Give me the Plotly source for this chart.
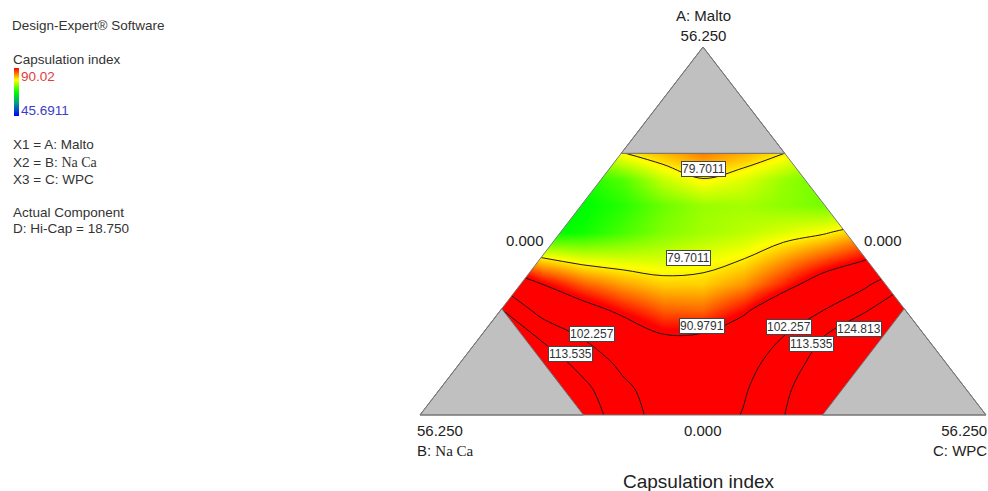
import plotly.graph_objects as go

# ---------------- data ----------------
TOTAL = 56.25        # A + B + C (D: Hi-Cap fixed)
UPPER = 40.0         # upper bound of A, B and C
HI_CAP = 18.750

# response grid: rows = A (Malto) level, columns = (C - B) / 2
grid_x = [-20, -16, -12, -8, -4, 0, 4, 8, 12, 16, 20]
grid_y = [0, 4, 8, 12, 16, 20, 24, 28, 32, 36, 40]
capsulation = [
    [145, 132, 120, 107.9, 97.5, 96, 102.8, 113, 130, 150, 170],
    [140, 128, 116.5, 105, 96, 95, 101, 110.6, 124.8, 140, 158],
    [132, 120, 110, 99.5, 94.5, 93.5, 98, 107.5, 118.5, 133, 148],
    [122, 112, 101.5, 96, 91.5, 91.8, 95.5, 102.3, 113.5, 126.5, 140],
    [114, 98, 94, 89.5, 86, 85.5, 89.8, 96.5, 102.3, 112, 125.5],
    [100, 91, 86, 83, 81, 81, 83.5, 88.5, 94.5, 100, 112],
    [84, 79.8, 77.5, 77, 77, 78, 79.5, 83, 86.5, 90, 96],
    [67, 67.5, 68.5, 71, 73.5, 75, 76, 77.5, 79, 82, 86],
    [65, 66, 67.5, 69.5, 72.5, 74.5, 75, 74, 73, 73, 74],
    [66, 67, 69, 71.5, 76.5, 79.5, 77.5, 74.5, 72.5, 72, 72],
    [67, 70, 74, 79.5, 82, 84.5, 82.5, 79.8, 75, 71, 68],
]
z_min, z_max = 45.6911, 90.02
contour_levels = [79.7011, 90.9791, 102.257, 113.535, 124.813]

label_text = ["79.7011", "79.7011", "90.9791", "102.257", "113.535",
              "102.257", "113.535", "124.813"]
label_x = [0.0, -1.4, -0.1, -11.0, -13.2, 8.55, 10.75, 15.5]
label_y = [37.6, 24.0, 13.6, 12.4, 9.3, 13.45, 10.85, 13.15]

vertex_values = ["56.250", "0.000"]

# ---------------- geometry helpers ----------------
def tern(a, b, c):
    """ternary (A top, B left, C right) -> cartesian"""
    return ((c - b) / 2.0, a)

PX_X = 10.062   # px per unit horizontally
PX_Y = 6.542    # px per unit vertically
CX, BY = 703.0, 415.0
W, H = 988, 491
x_range = [(0 - CX) / PX_X, (W - CX) / PX_X]
y_range = [(BY - H) / PX_Y, BY / PX_Y]

colorscale = [
    [0.0, "rgb(0,0,255)"],
    [0.25, "rgb(0,150,140)"],
    [0.5, "rgb(0,255,0)"],
    [0.75, "rgb(255,255,0)"],
    [1.0, "rgb(255,0,0)"],
]

fig = go.Figure()
fig.add_trace(go.Heatmap(
    x=grid_x, y=grid_y, z=capsulation,
    zmin=z_min, zmax=z_max, colorscale=colorscale, zsmooth="best",
    hoverinfo="skip",
    colorbar=dict(x=14 / W, xanchor="left", xpad=0, ypad=0,
                  y=1 - 92 / H, yanchor="middle",
                  len=48, lenmode="pixels", thickness=5, thicknessmode="pixels",
                  outlinewidth=0, showticklabels=False, ticks=""),
))
fig.add_trace(go.Contour(
    x=grid_x, y=grid_y, z=capsulation,
    contours=dict(start=contour_levels[0], end=contour_levels[-1],
                  size=contour_levels[1] - contour_levels[0], coloring="none"),
    line=dict(color="#1a1a1a", width=1, smoothing=1),
    showscale=False, hoverinfo="skip",
))

# ---------------- shapes ----------------
def path(pts):
    return "M " + " L ".join(f"{x},{y}" for x, y in pts) + " Z"

A_v = tern(TOTAL, 0, 0)
B_v = tern(0, TOTAL, 0)
C_v = tern(0, 0, TOTAL)
low = TOTAL - UPPER
shapes = []
white = dict(type="path", fillcolor="white", line=dict(width=0), layer="above")
shapes.append(dict(white, path=path([B_v, A_v, (-32, A_v[1] + 2), (-32, -3), (B_v[0], -3)])))
shapes.append(dict(white, path=path([C_v, A_v, (32, A_v[1] + 2), (32, -3), (C_v[0], -3)])))
shapes.append(dict(white, path=path([(-32, 0), (32, 0), (32, -3), (-32, -3)])))
grey = dict(type="path", fillcolor="rgb(192,192,192)",
            line=dict(color="rgb(110,110,110)", width=1), layer="above")
shapes.append(dict(grey, path=path([A_v, tern(UPPER, low, 0), tern(UPPER, 0, low)])))
shapes.append(dict(grey, path=path([B_v, tern(0, UPPER, low), tern(low, UPPER, 0)])))
shapes.append(dict(grey, path=path([C_v, tern(0, low, UPPER), tern(low, 0, UPPER)])))
shapes.append(dict(type="path", path=path([A_v, B_v, C_v]), fillcolor="rgba(0,0,0,0)",
                   line=dict(color="rgb(120,120,120)", width=1), layer="above"))

# ---------------- annotations ----------------
ann = []
for t, x, y in zip(label_text, label_x, label_y):
    ann.append(dict(x=x, y=y, xref="x", yref="y", text=t, showarrow=False,
                    font=dict(family="Liberation Sans, Arial", size=12, color="#333"),
                    bgcolor="white", bordercolor="#444", borderwidth=1, borderpad=0))

axf = dict(family="Liberation Sans, Arial", size=15, color="#222")
serif = '<span style="font-family:Liberation Serif;font-size:15px">Na Ca</span>'
serif_l = '<span style="font-family:Liberation Serif;font-size:14px">Na Ca</span>'
ann.append(dict(x=A_v[0], y=A_v[1], xref="x", yref="y", text="A: Malto<br>" + vertex_values[0],
                showarrow=False, yanchor="bottom", yshift=1, font=axf))
ann.append(dict(x=B_v[0], y=0, xref="x", yref="y", text=vertex_values[0] + "<br>B: " + serif,
                showarrow=False, xanchor="left", yanchor="top", align="left",
                xshift=-5, yshift=-5, font=axf))
ann.append(dict(x=C_v[0], y=0, xref="x", yref="y", text=vertex_values[0] + "<br>C: WPC",
                showarrow=False, xanchor="right", yanchor="top", align="right",
                xshift=3, yshift=-5, font=axf))
ann.append(dict(x=0, y=0, xref="x", yref="y", text=vertex_values[1],
                showarrow=False, yanchor="top", yshift=-5, font=axf))
mid_l = tern(TOTAL / 2, TOTAL / 2, 0)
mid_r = tern(TOTAL / 2, 0, TOTAL / 2)
ann.append(dict(x=mid_l[0], y=mid_l[1], xref="x", yref="y", text=vertex_values[1],
                showarrow=False, xanchor="right", xshift=-16, yshift=-9, font=axf))
ann.append(dict(x=mid_r[0], y=mid_r[1], xref="x", yref="y", text=vertex_values[1],
                showarrow=False, xanchor="left", xshift=17, yshift=-9, font=axf))
ann.append(dict(x=0, xref="x", y=1 - 481 / H, yref="paper", text="Capsulation index",
                showarrow=False, xshift=-4, yanchor="middle",
                font=dict(family="Liberation Sans, Arial", size=19, color="#222")))

lf = dict(family="Liberation Sans, Arial", size=13.5, color="#333")
left_items = [
    ("Design-Expert® Software", 26, 10, lf),
    ("Capsulation index", 60, 11, lf),
    (f"{z_max:.2f}", 77, 19, dict(lf, color="rgb(225,60,60)")),
    (f"{z_min:.4f}", 110, 19, dict(lf, color="rgb(60,60,200)")),
    ("X1 = A: Malto", 144, 11, lf),
    ("X2 = B: " + serif_l, 162, 11, lf),
    ("X3 = C: WPC", 179, 11, lf),
    ("Actual Component", 212, 11, lf),
    (f"D: Hi-Cap = {HI_CAP:.3f}", 229, 11, lf),
]
for t, yc, xl, f in left_items:
    ann.append(dict(x=xl / W, y=1 - yc / H, xref="paper", yref="paper", text=t,
                    showarrow=False, xanchor="left", yanchor="middle", font=f))

fig.update_layout(
    width=W, height=H, margin=dict(l=0, r=0, t=0, b=0),
    paper_bgcolor="white", plot_bgcolor="white",
    xaxis=dict(range=x_range, visible=False, fixedrange=True),
    yaxis=dict(range=y_range, visible=False, fixedrange=True),
    shapes=shapes, annotations=ann, showlegend=False,
)
fig.write_html("out.html")
